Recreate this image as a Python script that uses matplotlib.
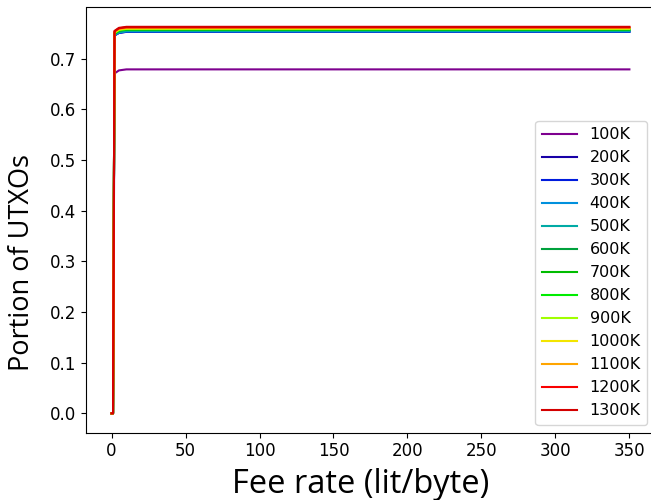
import numpy as np
import matplotlib
matplotlib.use("Agg")
import matplotlib.pyplot as plt

# fee rates (lit/byte) sampled along the x axis
fee_rates = [0, 1, 2, 5, 10, 50, 100, 150, 200, 250, 300, 350]

labels = ["100K", "200K", "300K", "400K", "500K", "600K", "700K",
          "800K", "900K", "1000K", "1100K", "1200K", "1300K"]

# portion of UTXOs per mempool size
p100k = [0, 0, 0.671, 0.677, 0.679, 0.679, 0.679, 0.679, 0.679, 0.679, 0.679, 0.679]
p200k = [0, 0, 0.746, 0.751, 0.753, 0.753, 0.753, 0.753, 0.753, 0.753, 0.753, 0.753]
p300k = [0, 0, 0.746, 0.751, 0.7535, 0.7535, 0.7535, 0.7535, 0.7535, 0.7535, 0.7535, 0.7535]
p400k = [0, 0, 0.747, 0.752, 0.754, 0.754, 0.754, 0.754, 0.754, 0.754, 0.754, 0.754]
p500k = [0, 0, 0.747, 0.752, 0.755, 0.755, 0.755, 0.755, 0.755, 0.755, 0.755, 0.755]
p600k = [0, 0, 0.749, 0.755, 0.757, 0.757, 0.757, 0.757, 0.757, 0.757, 0.757, 0.757]
p700k = [0, 0, 0.750, 0.756, 0.758, 0.758, 0.758, 0.758, 0.758, 0.758, 0.758, 0.758]
p800k = [0, 0, 0.750, 0.756, 0.758, 0.758, 0.758, 0.758, 0.758, 0.758, 0.758, 0.758]
p900k = [0, 0, 0.751, 0.757, 0.759, 0.759, 0.759, 0.759, 0.759, 0.759, 0.759, 0.759]
p1000k = [0, 0, 0.752, 0.758, 0.760, 0.760, 0.760, 0.760, 0.760, 0.760, 0.760, 0.760]
p1100k = [0, 0, 0.753, 0.759, 0.761, 0.761, 0.761, 0.761, 0.761, 0.761, 0.761, 0.761]
p1200k = [0, 0, 0.754, 0.760, 0.762, 0.762, 0.762, 0.762, 0.762, 0.762, 0.762, 0.762]
p1300k = [0, 0, 0.755, 0.761, 0.763, 0.763, 0.763, 0.763, 0.763, 0.763, 0.763, 0.763]

series = [p100k, p200k, p300k, p400k, p500k, p600k, p700k,
          p800k, p900k, p1000k, p1100k, p1200k, p1300k]

colors = plt.cm.nipy_spectral(np.arange(1, 14) / 14)

fig = plt.figure(figsize=(6.51, 5.0), dpi=100)
ax = fig.add_axes([0.1316, 0.1346, 0.875, 0.8504])

for vals, lab, c in zip(series, labels, colors):
    ax.plot(fee_rates, vals, color=c, linewidth=1.5, label=lab)

ax.set_xticks([0, 50, 100, 150, 200, 250, 300, 350])
ax.set_yticks([0.0, 0.1, 0.2, 0.3, 0.4, 0.5, 0.6, 0.7])
ax.tick_params(labelsize=12)

ax.set_xlabel("Fee rate (lit/byte)", fontsize=23.5, family="Open Sans")
ax.set_ylabel("Portion of UTXOs", fontsize=19.5, family="Open Sans")
ax.xaxis.set_label_coords(0.482, -0.082)
ax.yaxis.set_label_coords(-0.088, 0.401)

ax.legend(loc="lower right", fontsize=11.5, labelspacing=0.5, handlelength=2.2)

fig.savefig("out.png", dpi=100)
plt.close(fig)
